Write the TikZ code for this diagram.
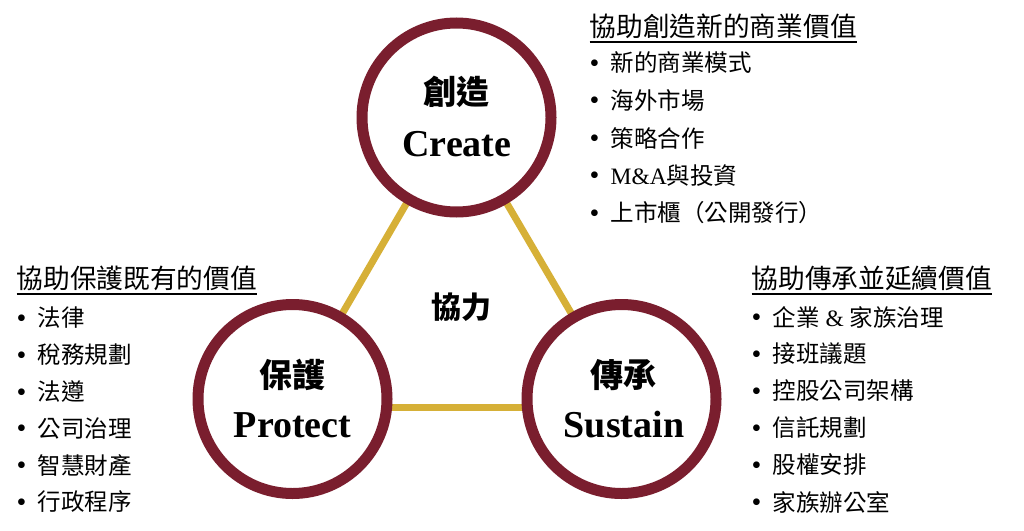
\documentclass[tikz,border=0pt]{standalone}
\usepackage{fontspec}
\setmainfont{Liberation Serif}
\newfontfamily\zh{Noto Sans CJK TC}
\newfontfamily\lat{Liberation Serif}
\usetikzlibrary{backgrounds}
\definecolor{maroon}{RGB}{122,30,46}
\definecolor{gold}{RGB}{214,176,55}
\newcommand{\itm}[1]{\makebox[21pt][l]{\lat\fontsize{28}{28}\selectfont\raisebox{-0.5pt}{•}}#1}
\newcommand{\ma}{{\lat M\&A}}
\newcommand{\amp}{{\lat\ \&\ }}

\begin{document}
\begin{tikzpicture}[x=1pt,y=-1pt,
    valcirc/.style={circle,draw=maroon,line width=11pt,fill=white,minimum size=189pt,inner sep=0pt},
    link/.style={gold,line width=7pt},
    zhlab/.style={font=\zh\bfseries\fontsize{33}{33}\selectfont,inner sep=0pt},
    enlab/.style={font=\bfseries\fontsize{38}{38}\selectfont,inner sep=0pt},
    head/.style={font=\zh\fontsize{26.7}{26.7}\selectfont,anchor=west,inner sep=0pt},
    item/.style={font=\zh\fontsize{23.5}{23.5}\selectfont,anchor=west,inner sep=0pt},
    uline/.style={line width=1.3pt}]
  \useasboundingbox (0,0) rectangle (1024,530);
  % the three circles
  \node[valcirc] (crea) at (456.5,117.5) {};
  \node[valcirc] (prot) at (292.5,399) {};
  \node[valcirc] (sust) at (621.5,399) {};
  \begin{scope}[on background layer]
    \draw[link] (crea.center) -- (prot.center);
    \draw[link] (crea.center) -- (sust.center);
    \draw[link] ([yshift=-8pt]prot.center) -- ([yshift=-8pt]sust.center);
  \end{scope}
  \node[zhlab] (creazh) at (456.5,92) {創造};
  \node[enlab] (creaen) at (457,144) {Create};
  \node[zhlab] (protzh) at (292.5,375) {保護};
  \node[enlab] (proten) at (292.5,425) {Protect};
  \node[zhlab] (sustzh) at (623.5,375) {傳承};
  \node[enlab] (susten) at (624,425) {Sustain};
  \node[font=\zh\bfseries\fontsize{30}{30}\selectfont] (xieli) at (461.5,307) {協力};
  % create list
  \node[head] (ctit) at (589.5,26) {協助創造新的商業價值};
  \draw[uline] ([yshift=-3.5pt]ctit.south west) -- ([yshift=-3.5pt]ctit.south east);
  \foreach \t [count=\i] in {新的商業模式,海外市場,策略合作,\ma 與投資,上市櫃（公開發行）}
    \node[item] (c\i) at (589.5,25.5+37.5*\i) {\itm{\t}};
  % protect list
  \node[head] (ptit) at (16.5,278) {協助保護既有的價值};
  \draw[uline] ([yshift=-3.5pt]ptit.south west) -- ([yshift=-3.5pt]ptit.south east);
  \foreach \t [count=\i] in {法律,稅務規劃,法遵,公司治理,智慧財產,行政程序}
    \node[item] (p\i) at (16.5,281.2+36.8*\i) {\itm{\t}};
  % sustain list
  \node[head] (stit) at (751.5,278) {協助傳承並延續價值};
  \draw[uline] ([yshift=-3.5pt]stit.south west) -- ([yshift=-3.5pt]stit.south east);
  \foreach \t [count=\i] in {企業\amp 家族治理,接班議題,控股公司架構,信託規劃,股權安排,家族辦公室}
    \node[item] (s\i) at (751.5,280+37*\i) {\itm{\t}};
\end{tikzpicture}
\end{document}
